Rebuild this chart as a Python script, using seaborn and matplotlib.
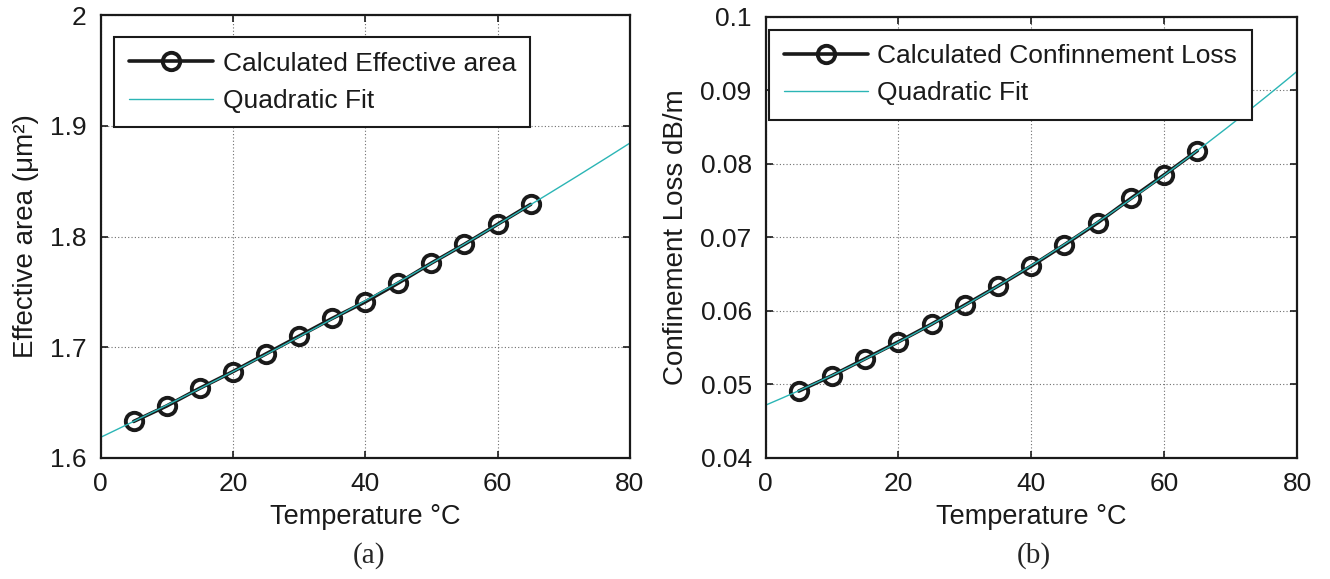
import numpy as np
import pandas as pd
import seaborn as sns
from matplotlib import pyplot as plt
from matplotlib.ticker import FuncFormatter

# values
temperature = [5, 10, 15, 20, 25, 30, 35, 40, 45, 50, 55, 60, 65]
eff_area = [1.633, 1.647, 1.663, 1.678, 1.694, 1.710, 1.726, 1.741,
            1.758, 1.776, 1.793, 1.811, 1.829]
conf_loss = [0.0491, 0.0512, 0.0535, 0.0558, 0.0582, 0.0608, 0.0634,
             0.0661, 0.0690, 0.0720, 0.0753, 0.0785, 0.0818]

area_ticks = [1.6, 1.7, 1.8, 1.9, 2.0]
loss_ticks = [0.04, 0.05, 0.06, 0.07, 0.08, 0.09, 0.1]
temp_ticks = [0, 20, 40, 60, 80]

FIT_COLOR = '#2bb5b5'
INK = '#1a1a1a'

sns.set_theme(style='white')
plt.rcParams['font.family'] = ['Liberation Sans', 'DejaVu Sans']


def quad_fit(x, y, x_min=0, x_max=80):
    coef = np.polyfit(x, y, 2)
    xs = np.linspace(x_min, x_max, 161)
    return pd.DataFrame({'x': xs, 'y': np.polyval(coef, xs)})


def draw_panel(ax, y, label, ylabel, yticks, legend_anchor):
    df = pd.DataFrame({'x': temperature, 'y': y})
    sns.lineplot(data=df, x='x', y='y', ax=ax, color=INK, lw=2.6,
                 marker='o', markersize=12.5, mfc='none', mec=INK,
                 mew=2.8, label=label)
    fit = quad_fit(temperature, y)
    sns.lineplot(data=fit, x='x', y='y', ax=ax, color=FIT_COLOR, lw=1.0,
                 label='Quadratic Fit')

    ax.set_xlim(0, 80)
    ax.set_ylim(yticks[0], yticks[-1])
    ax.set_xticks(temp_ticks)
    ax.set_yticks(yticks)
    ax.yaxis.set_major_formatter(FuncFormatter(lambda v, p: '%g' % round(v, 4)))
    ax.grid(True, linestyle=(0, (1, 2)), color='#6e6e6e', lw=0.8)
    ax.tick_params(direction='in', length=5, width=1.2, labelsize=19,
                   top=True, right=True, bottom=True, left=True, pad=10,
                   colors=INK, labelcolor=INK)
    for s in ax.spines.values():
        s.set_color(INK)
        s.set_linewidth(1.6)
        s.set_visible(True)
    ax.set_xlabel('Temperature \u00b0C', fontsize=19.5, color=INK, labelpad=6)
    ax.set_ylabel(ylabel, fontsize=20, color=INK, labelpad=8)

    leg = ax.legend(loc='upper left', bbox_to_anchor=legend_anchor,
                    fontsize=19, frameon=True, fancybox=False,
                    handlelength=3.2, handletextpad=0.35, borderpad=0.55,
                    labelspacing=0.5, borderaxespad=0)
    leg.get_frame().set_edgecolor(INK)
    leg.get_frame().set_linewidth(1.5)
    leg.get_frame().set_alpha(1)
    for t in leg.get_texts():
        t.set_color(INK)


fig = plt.figure(figsize=(13.3, 5.79), dpi=100)
ax_a = fig.add_axes([0.0756, 0.209, 0.398, 0.765])
ax_b = fig.add_axes([0.5756, 0.209, 0.3996, 0.762])

draw_panel(ax_a, eff_area, 'Calculated Effective area',
           'Effective area (\u03bcm\u00b2)', area_ticks, (0.026, 0.950))
draw_panel(ax_b, conf_loss, 'Calculated Confinnement Loss',
           'Confinement Loss dB/m', loss_ticks, (0.007, 0.971))

fig.text(0.2775, 0.04, '(a)', ha='center', va='center', fontsize=21,
         family=['Liberation Serif', 'DejaVu Serif'])
fig.text(0.7775, 0.04, '(b)', ha='center', va='center', fontsize=21,
         family=['Liberation Serif', 'DejaVu Serif'])

fig.savefig('out.png', dpi=100, facecolor='white')
